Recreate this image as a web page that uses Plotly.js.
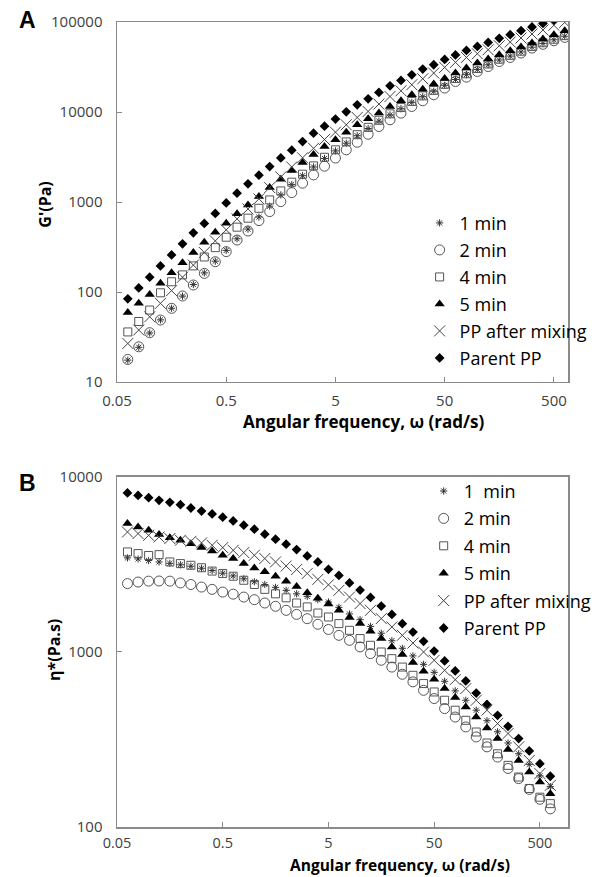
<!DOCTYPE html>
<html>
<head>
<meta charset="utf-8">
<script src="https://cdn.plot.ly/plotly-3.0.1.min.js"></script>
<style>html,body{margin:0;padding:0;background:#fff;}#chart{width:600px;height:877px;}</style>
</head>
<body>
<div id="chart"></div>
<script>
// Angular frequency (rad/s)
const omega = [0.0628,0.0791,0.0996,0.125,0.158,0.199,0.25,0.315,0.397,0.5,0.628,0.791,0.996,1.25,1.58,1.99,2.5,3.15,3.97,5,6.28,7.91,9.96,12.5,15.8,19.9,25,31.5,39.7,50,62.8,79.1,99.6,125,158,199,250,315,397,500,628];

const seriesNamesA = ["1 min","2 min","4 min","5 min","PP after mixing","Parent PP"];
const seriesNamesB = ["1\u00a0 min","2 min","4 min","5 min","PP after mixing","Parent PP"];

// Panel A: G' (Pa)
const gp_1min = [17.5,24.3,35,49,66,90,121,163,220,290,390,500,680,900,1200,1560,1960,2450,3050,3700,4500,5450,6550,7900,9300,10900,12800,14800,17000,19800,23000,26000,29700,33500,37800,41800,46500,52500,57800,63500,69500];
const gp_2min = [17.8,24.6,35.3,48.8,65.9,90.3,119.6,161,217,281,378,476,621,782,1010,1272,1619,2000,2500,3080,3800,4610,5660,6900,8190,9720,11520,13330,15540,18450,21850,24400,28200,32000,36400,40400,45200,51300,56500,61900,67500];
const gp_4min = [36,47,63,98,130,155,195,245,311,406,525,661,851,1054,1327,1660,2037,2520,3140,3800,4650,5600,6750,8100,9550,11200,13100,15100,17400,20300,23600,26600,30400,34200,38600,42600,47400,53500,58800,64300,70500];
const gp_5min = [59,75,94,125,164,212,274,357,462,581,738,929,1148,1446,1794,2235,2742,3366,4130,4910,5970,7210,8400,9720,11520,13330,15540,17900,20500,23500,27100,30800,35000,38800,43300,47900,52700,58400,64700,72200,80000];
const gp_ppMix = [26.8,37.8,53,74.8,103.5,146,199,275,370,490,649,838,1083,1446,1900,2450,3100,3950,4950,5970,7210,8690,10140,12250,14870,17200,20100,23400,27100,31300,35600,40400,44400,49200,54500,59900,66400,73500,81500,92000,99000];
const gp_parent = [84,111,146,195,258,343,454,578,747,975,1253,1590,1985,2477,3090,3770,4700,5820,6950,8340,10050,12020,14020,16480,19550,22400,25900,30000,33500,38400,43000,48300,53500,59300,65800,72300,80000,88000,96400,105000,114000];

// Panel B: complex viscosity (Pa.s)
const eta_1min = [3450,3400,3330,3270,3210,3150,3090,3010,2920,2820,2720,2620,2520,2430,2340,2250,2150,2080,1990,1930,1800,1650,1530,1400,1280,1160,1050,950,850,765,680,600,530,465,405,350,302,262,228,196,170];
const eta_2min = [2460,2510,2540,2545,2540,2480,2430,2350,2280,2200,2140,2060,1990,1905,1825,1730,1640,1550,1440,1345,1245,1166,1069,979,897,820,746,675,604,542,475,425,373,327,287,251,216,189,164,144,127];
const eta_4min = [3730,3650,3560,3600,3270,3200,3130,3030,2900,2810,2710,2570,2430,2280,2150,2040,1905,1810,1670,1585,1453,1330,1193,1092,1000,916,820,736,660,591,530,465,407,349,302,262,225,193,166,148,136];
const eta_5min = [5420,5180,4960,4690,4500,4350,4160,3950,3780,3570,3420,3200,3020,2870,2710,2540,2370,2180,2030,1880,1730,1572,1453,1313,1193,1069,967,870,776,698,618,549,485,425,368,320,277,240,206,181,155];
const eta_ppMix = [4850,4750,4640,4540,4450,4350,4290,4200,4070,3950,3810,3700,3570,3420,3270,3100,2960,2810,2600,2420,2250,2060,1890,1730,1552,1390,1245,1125,1000,897,786,695,618,530,465,390,342,287,240,202,173];
const eta_parent = [8110,7850,7620,7360,7170,6950,6650,6390,6150,5890,5610,5300,5030,4710,4410,4130,3850,3540,3270,2970,2740,2480,2260,2050,1830,1640,1452,1300,1151,1013,889,779,683,583,502,435,376,320,272,230,195];

const xTickVals = [0.05,0.5,5,50,500];
const xTickText = ["0.05","0.5","5","50","500"];
const yTickValsA = [10,100,1000,10000,100000];
const yTickTextA = ["10","100","1000","10000","100000"];
const yTickValsB = [100,1000,10000];
const yTickTextB = ["100","1000","10000"];

const markerStyles = [
  {symbol:'asterisk-open', size:6, color:'#333', line:{color:'#333', width:1}},
  {symbol:'circle-open', size:10, color:'#555', line:{color:'#555', width:1}},
  {symbol:'square-open', size:8, color:'#555', line:{color:'#555', width:1}},
  {symbol:'triangle-up', size:9, color:'#000', line:{width:0}},
  {symbol:'x-thin-open', size:11, color:'#444', line:{color:'#444', width:1}},
  {symbol:'diamond', size:7.5, color:'#000', line:{width:0}}
];

const dataA = [gp_1min, gp_2min, gp_4min, gp_5min, gp_ppMix, gp_parent];
const dataB = [eta_1min, eta_2min, eta_4min, eta_5min, eta_ppMix, eta_parent];

const traces = [];
dataA.forEach((ys, i) => {
  traces.push({type:'scatter', mode:'markers', x:omega, y:ys, name:seriesNamesA[i],
    xaxis:'x', yaxis:'y', marker:markerStyles[i], legend:'legend', legendgroup:'a'+i});
});
dataB.forEach((ys, i) => {
  traces.push({type:'scatter', mode:'markers', x:omega, y:ys, name:seriesNamesB[i],
    xaxis:'x2', yaxis:'y2', marker:markerStyles[i], legend:'legend2', legendgroup:'b'+i});
});

const FONT = 'Open Sans, Liberation Sans, sans-serif';
const axisCommon = {
  type:'log', showgrid:false, zeroline:false, showline:true, linecolor:'#8a8a8a', linewidth:1.5,
  mirror:true, ticks:'inside', ticklen:5, tickwidth:1, tickcolor:'#8a8a8a',
  tickfont:{family:FONT, size:15, color:'#404040'}, tickmode:'array'
};

const layout = {
  width:600, height:877,
  margin:{l:117, r:3, t:22, b:50},
  paper_bgcolor:'#fff', plot_bgcolor:'#fff',
  font:{family:FONT, color:'#000'},
  showlegend:true,
  xaxis:Object.assign({}, axisCommon, {anchor:'y', domain:[0,1], range:[Math.log10(0.05), 2.828], tickvals:xTickVals, ticktext:xTickText, ticklabelstandoff:5}),
  yaxis:Object.assign({}, axisCommon, {anchor:'x', domain:[0.5528,1], range:[1,5], tickvals:yTickValsA, ticktext:yTickTextA, ticklabelstandoff:10}),
  xaxis2:Object.assign({}, axisCommon, {anchor:'y2', domain:[0,1], range:[Math.log10(0.05), 2.965], tickvals:xTickVals, ticktext:xTickText, ticklabelstandoff:2, tickfont:{family:FONT, size:14.5, color:'#404040'}}),
  yaxis2:Object.assign({}, axisCommon, {anchor:'x2', domain:[0,0.4348], range:[2,4], tickvals:yTickValsB, ticktext:yTickTextB, ticklabelstandoff:10}),
  legend:{x:0.671, y:0.773, xanchor:'left', yanchor:'top', bgcolor:'rgba(0,0,0,0)', borderwidth:0,
    font:{family:FONT, size:18, color:'#000'}, traceorder:'grouped', tracegroupgap:0.6, itemsizing:'trace'},
  legend2:{x:0.68, y:0.44, xanchor:'left', yanchor:'top', bgcolor:'rgba(0,0,0,0)', borderwidth:0,
    font:{family:FONT, size:18, color:'#000'}, traceorder:'grouped', tracegroupgap:1, itemsizing:'trace'},
  annotations:[
    {text:'<b>A</b>', xref:'paper', yref:'paper', x:-0.198, y:1.0025, showarrow:false, xanchor:'center', yanchor:'middle', font:{family:'Liberation Sans, Arial, sans-serif', size:23, color:'#000'}},
    {text:'<b>B</b>', xref:'paper', yref:'paper', x:-0.198, y:0.4273, showarrow:false, xanchor:'center', yanchor:'middle', font:{family:'Liberation Sans, Arial, sans-serif', size:23, color:'#000'}},
    {text:"<b>G'(Pa)</b>", xref:'paper', yref:'paper', x:-0.1604, y:0.7727, textangle:-90, showarrow:false, xanchor:'center', yanchor:'middle', font:{family:FONT, size:16, color:'#000'}},
    {text:'<b>η*(Pa.s)</b>', xref:'paper', yref:'paper', x:-0.1396, y:0.2199, textangle:-90, showarrow:false, xanchor:'center', yanchor:'middle', font:{family:FONT, size:16, color:'#000'}},
    {text:'<b>Angular frequency, ω (rad/s)</b>', xref:'paper', yref:'paper', x:0.548, y:0.5043, showarrow:false, xanchor:'center', yanchor:'middle', font:{family:FONT, size:17, color:'#000'}},
    {text:'<b>Angular frequency, ω (rad/s)</b>', xref:'paper', yref:'paper', x:0.6285, y:-0.0621, showarrow:false, xanchor:'center', yanchor:'bottom', borderpad:0, font:{family:FONT, size:15.5, color:'#000'}}
  ]
};

Plotly.newPlot('chart', traces, layout, {displayModeBar:false, staticPlot:true});
</script>
</body>
</html>
